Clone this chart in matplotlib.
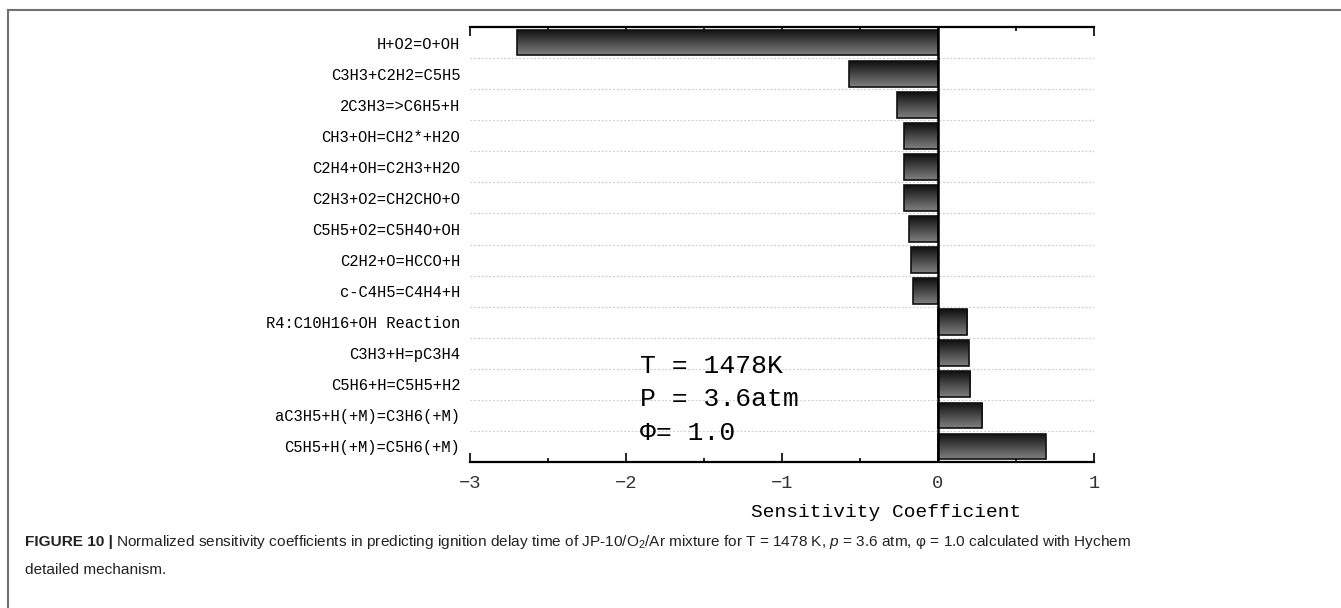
import matplotlib
matplotlib.use('Agg')
from matplotlib import pyplot as plt
from matplotlib import font_manager
from matplotlib.lines import Line2D
import numpy as np

reactions = [
    'H+O2=O+OH',
    'C3H3+C2H2=C5H5',
    '2C3H3=>C6H5+H',
    'CH3+OH=CH2*+H2O',
    'C2H4+OH=C2H3+H2O',
    'C2H3+O2=CH2CHO+O',
    'C5H5+O2=C5H4O+OH',
    'C2H2+O=HCCO+H',
    'c-C4H5=C4H4+H',
    'R4:C10H16+OH Reaction',
    'C3H3+H=pC3H4',
    'C5H6+H=C5H5+H2',
    'aC3H5+H(+M)=C3H6(+M)',
    'C5H5+H(+M)=C5H6(+M)',
]
coefficients = [-2.70, -0.57, -0.26, -0.22, -0.22, -0.215, -0.186, -0.173,
                -0.16, 0.188, 0.198, 0.207, 0.284, 0.69]
x_ticks = [-3, -2, -1, 0, 1]
x_ticklabels = ['\u22123', '\u22122', '\u22121', '0', '1']
conditions = ['T = 1478K', 'P = 3.6atm', '\u03a6= 1.0']

mono = 'Liberation Mono'
installed = {f.name for f in font_manager.fontManager.ttflist}
cap_font = 'Liberation Sans Narrow' if 'Liberation Sans Narrow' in installed else 'Liberation Sans'
cap_size = 13.0 if cap_font == 'Liberation Sans Narrow' else 11.1

plt.rcParams['mathtext.fontset'] = 'custom'
plt.rcParams['mathtext.rm'] = cap_font
plt.rcParams['mathtext.it'] = cap_font + ':italic'

fig = plt.figure(figsize=(13.41, 6.08), dpi=100)
ax = fig.add_axes([0.3505, 0.2401, 0.4653, 0.7155])

ypos = np.arange(len(reactions))
bar_h = 0.83
bars = ax.barh(ypos, coefficients, height=bar_h, color='none',
               edgecolor='#111111', linewidth=1.2, zorder=3)

# vertical grey shading on each bar, dark on top
grad = np.linspace(0.06, 0.50, 64).reshape(-1, 1)
for b in bars:
    x0, y0 = b.get_x(), b.get_y()
    w, h = b.get_width(), b.get_height()
    im = ax.imshow(grad, cmap='gray', vmin=0, vmax=1, aspect='auto',
                   origin='upper', interpolation='bilinear',
                   extent=(x0, x0 + w, y0 + h, y0), zorder=2)
    im.set_clip_path(b)

for k in range(len(reactions) - 1):
    ax.plot([-3, 1], [k + 0.5, k + 0.5], color='#cfcfcf', lw=0.9,
            linestyle=(0, (1.5, 1.5)), zorder=1)

ax.axvline(0, color='black', lw=1.8, zorder=4)

ax.set_xlim(-3, 1)
ax.set_ylim(len(reactions) - 0.5, -0.5)

ax.spines['left'].set_visible(False)
ax.spines['right'].set_visible(False)
for s in ('top', 'bottom'):
    ax.spines[s].set_linewidth(1.6)

ax.set_xticks(x_ticks)
ax.set_xticklabels(x_ticklabels, fontfamily=mono, fontsize=13.5, color='#333333')
ax.set_xticks(np.arange(-2.5, 1, 1), minor=True)
ax.tick_params(axis='x', which='major', direction='in', length=6.5, width=1.2,
               top=True, bottom=True, pad=9)
ax.tick_params(axis='x', which='minor', direction='in', length=3.2, width=1.2,
               top=True, bottom=True)

ax.set_yticks(ypos)
ax.set_yticklabels(reactions, fontfamily=mono, fontsize=11.2)
ax.tick_params(axis='y', length=0, pad=7)

ax.set_xlabel('Sensitivity Coefficient', fontfamily=mono, fontsize=14)
ax.xaxis.set_label_coords(0.667, -0.097)

for i, s in enumerate(conditions):
    ax.text(-1.91, 10.4 + i * 1.08, s, fontfamily=mono, fontsize=19,
            va='center', ha='left')

# frame lines around the figure panel
fig.add_artist(Line2D([8 / 1341, 1], [1 - 10 / 608, 1 - 10 / 608],
                      transform=fig.transFigure, color='#707070', lw=1.5))
fig.add_artist(Line2D([8 / 1341, 8 / 1341], [0, 1 - 10 / 608],
                      transform=fig.transFigure, color='#707070', lw=1.5))

y1 = 1 - 546 / 608
head = fig.text(25 / 1341, y1, 'FIGURE 10 |', fontfamily=cap_font,
                fontweight='bold', fontsize=cap_size, va='baseline', color='#222222')
caption = (r'Normalized sensitivity coefficients in predicting ignition delay time of '
           r'JP-10/O$_2$/Ar mixture for T = 1478 K, $p$ = 3.6 atm, '
           '\u03c6 = 1.0 calculated with Hychem')
ax.annotate(caption, xy=(1, y1), xycoords=(head, 'figure fraction'),
            xytext=(2, 0), textcoords='offset points', va='baseline',
            fontfamily=cap_font, fontsize=cap_size, color='#222222',
            annotation_clip=False)
fig.text(25 / 1341, 1 - 574 / 608, 'detailed mechanism.', fontfamily=cap_font,
         fontsize=cap_size, va='baseline', color='#222222')

fig.savefig('out.png', dpi=100)
